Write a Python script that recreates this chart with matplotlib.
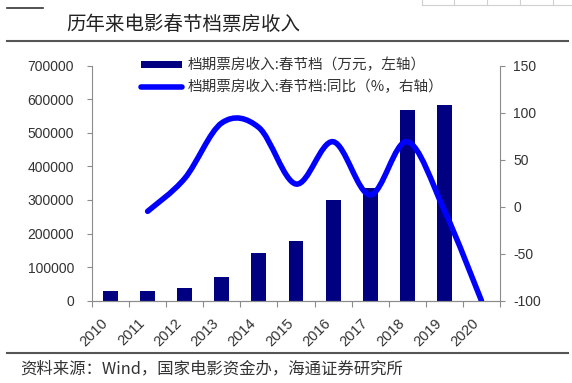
"""Spring Festival box office chart: yearly revenue (bars) and YoY growth (line)."""

from __future__ import annotations

import matplotlib

matplotlib.use("Agg")

import matplotlib.pyplot as plt
import numpy as np
from matplotlib.lines import Line2D
from matplotlib.patches import Patch, PathPatch
from matplotlib.path import Path

YEARS = ["2010", "2011", "2012", "2013", "2014", "2015",
         "2016", "2017", "2018", "2019", "2020"]
# 档期票房收入:春节档（万元）
BOX_OFFICE = [30000, 30000, 38000, 72000, 141000, 178000,
              301000, 334000, 569000, 581000, 0]
# 同比（%）, starts in 2011
YOY_YEARS = YEARS[1:]
YOY_GROWTH = [-5, 30, 89, 84, 24, 69, 12.5, 69, -4, -100]

TITLE = "历年来电影春节档票房收入"
LEGEND_LABELS = ["档期票房收入:春节档（万元，左轴）",
                 "档期票房收入:春节档:同比（%，右轴）"]
SOURCE = "资料来源：Wind，国家电影资金办，海通证券研究所"

LEFT_TICKS = [0, 100000, 200000, 300000, 400000, 500000, 600000, 700000]
RIGHT_TICKS = [-100, -50, 0, 50, 100, 150]

BAR_COLOR = "#000080"
LINE_COLOR = "#0000FF"
SPINE_COLOR = "#8c8c8c"
TEXT_COLOR = "#333333"
CJK = ["Noto Sans CJK SC", "DejaVu Sans"]
LATIN = ["Liberation Sans", "DejaVu Sans"]

W, H = 572, 383


def fx(x):
    return x / W


def fy(y):
    return 1 - y / H


def smooth_path(xs, ys):
    """Catmull-Rom style Bezier path through the points (like Excel smoothing)."""
    pts = np.column_stack([xs, ys]).astype(float)
    ext = np.vstack([pts[0], pts, pts[-1]])
    verts = [pts[0]]
    codes = [Path.MOVETO]
    for i in range(len(pts) - 1):
        p0, p1, p2, p3 = ext[i], ext[i + 1], ext[i + 2], ext[i + 3]
        verts += [p1 + (p2 - p0) / 6, p2 - (p3 - p1) / 6, p2]
        codes += [Path.CURVE4] * 3
    return Path(verts, codes)


def main():
    fig = plt.figure(figsize=(W / 100, H / 100), dpi=100)
    ax = fig.add_axes([fx(92), fy(300.7), fx(500) - fx(92), fy(65.5) - fy(300.7)])
    ax2 = ax.twinx()

    x = np.arange(len(YEARS))
    ax.bar(x, BOX_OFFICE, width=0.4, color=BAR_COLOR, zorder=2)
    ax.set_xlim(-0.5, len(YEARS) - 0.5)
    ax.set_ylim(0, 700000)
    ax.set_yticks(LEFT_TICKS)
    ax.set_yticklabels([str(v) for v in LEFT_TICKS], family=LATIN, fontsize=10,
                       color=TEXT_COLOR)

    # category labels on major ticks, tick marks between categories
    ax.set_xticks(x)
    ax.set_xticklabels(YEARS, rotation=45, ha="right", va="top", family=LATIN,
                       fontsize=10.5, color=TEXT_COLOR)
    ax.set_xticks(np.arange(len(YEARS) + 1) - 0.5, minor=True)
    ax.tick_params(axis="x", which="major", length=0, pad=11)
    ax.tick_params(axis="x", which="minor", length=4, color=SPINE_COLOR, width=0.8)
    ax.tick_params(axis="y", length=3.6, color=SPINE_COLOR, width=0.8, pad=9.4)

    yoy_x = [YEARS.index(y) for y in YOY_YEARS]
    ax2.add_patch(PathPatch(smooth_path(yoy_x, YOY_GROWTH), fill=False,
                            edgecolor=LINE_COLOR, lw=4, capstyle="round", zorder=3))
    ax2.set_ylim(-100, 150)
    ax2.set_yticks(RIGHT_TICKS)
    ax2.set_yticklabels([str(v) for v in RIGHT_TICKS], family=LATIN, fontsize=10,
                        color=TEXT_COLOR)
    ax2.tick_params(axis="y", length=3.6, color=SPINE_COLOR, width=0.8, pad=5.8)

    for a in (ax, ax2):
        a.spines["top"].set_visible(False)
        for side in ("left", "right", "bottom"):
            a.spines[side].set_color(SPINE_COLOR)
            a.spines[side].set_linewidth(0.8)
    ax.spines["right"].set_visible(False)
    ax2.spines["left"].set_visible(False)

    handles = [
        Patch(facecolor=BAR_COLOR, edgecolor="none"),
        Line2D([], [], color=LINE_COLOR, lw=4, solid_capstyle="round"),
    ]
    fig.legend(handles, LEGEND_LABELS, loc="upper left",
               bbox_to_anchor=(fx(141), fy(58)), frameon=False,
               prop={"family": CJK, "size": 10.5}, labelcolor=TEXT_COLOR,
               handlelength=2.8, handleheight=0.4, handletextpad=0.4,
               labelspacing=0.5, borderpad=0, borderaxespad=0)

    # page decorations: title, rules, source
    fig.text(fx(66), fy(24), TITLE, family=CJK, fontsize=14, color="#222222",
             va="center", ha="left")
    fig.text(fx(20), fy(369), SOURCE, family=CJK, fontsize=11.8, color=TEXT_COLOR,
             va="center", ha="left")
    rule = dict(color="#555555", lw=1.5, transform=fig.transFigure)
    fig.add_artist(Line2D([fx(6.7), fx(568)], [fy(41), fy(41)], **rule))
    fig.add_artist(Line2D([fx(6.7), fx(568)], [fy(352.7), fy(352.7)], **rule))
    fig.add_artist(Line2D([fx(6.7), fx(43.3)], [fy(8.3), fy(8.3)],
                          color="#333333", lw=1.2, transform=fig.transFigure))
    grid = dict(color="#d0d0d0", lw=0.8, transform=fig.transFigure)
    fig.add_artist(Line2D([fx(421.7), fx(572)], [fy(5), fy(5)], **grid))
    for gx in (421.7, 454, 487.3, 520, 553):
        fig.add_artist(Line2D([fx(gx), fx(gx)], [fy(0), fy(5)], **grid))

    fig.savefig("out.png", dpi=100)
    plt.close(fig)


if __name__ == "__main__":
    main()
